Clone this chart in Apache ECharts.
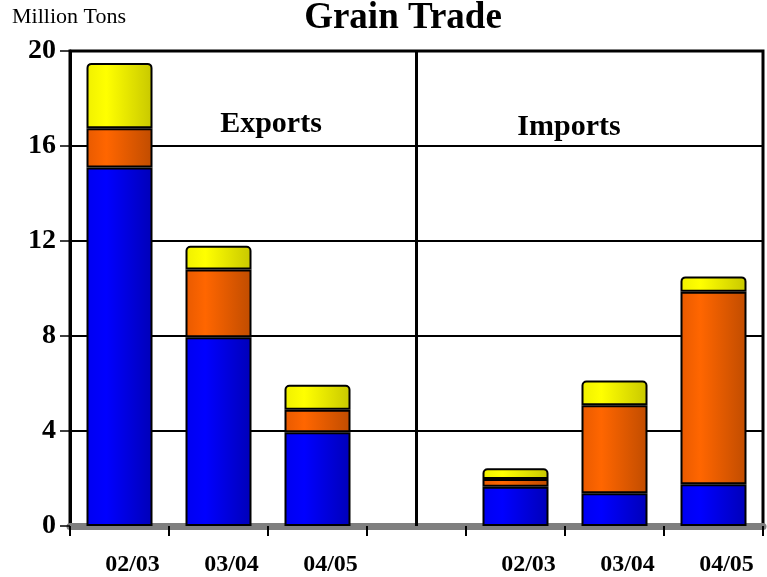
<!DOCTYPE html>
<html>
<head>
<meta charset="utf-8">
<script src="https://cdn.jsdelivr.net/npm/echarts@6/dist/echarts.min.js"></script>
<style>html,body{margin:0;padding:0;background:#fff;}#c{width:767px;height:577px;}</style>
</head>
<body>
<div id="c"></div>
<script>
var categories = ['02/03', '03/04', '04/05', '', '02/03', '03/04', '04/05'];
var blueValues = [15.1, 7.95, 3.95, '-', 1.65, 1.38, 1.76];
var orangeValues = [1.65, 2.85, 0.95, '-', 0.33, 3.7, 8.1];
var yellowValues = [2.75, 1.0, 1.05, '-', 0.45, 1.05, 0.65];
var yTicks = [0, 4, 8, 12, 16, 20];

var SERIF = '"Liberation Serif", "DejaVu Serif", serif';

function grad(c0, c1, c2) {
  return new echarts.graphic.LinearGradient(0, 0, 1, 0, [
    {offset: 0, color: c0}, {offset: 0.3, color: c1}, {offset: 1, color: c2}
  ]);
}

var chart = echarts.init(document.getElementById('c'));
chart.setOption({
  animation: false,
  backgroundColor: '#fff',
  grid: {left: 70, right: 4, top: 51, bottom: 49, show: true, borderColor: '#000', borderWidth: 3, backgroundColor: 'transparent'},
  graphic: [
    {type: 'text', left: 12, top: 6, style: {text: 'Million Tons', font: '22px ' + SERIF, fill: '#000'}},
    {type: 'text', style: {x: 403, y: 18, text: 'Grain Trade', font: 'bold 37px ' + SERIF, fill: '#000', textAlign: 'center', textVerticalAlign: 'middle'}},
    {type: 'text', z: 10, style: {x: 271, y: 124, text: 'Exports', font: 'bold 30px ' + SERIF, fill: '#000', textAlign: 'center', textVerticalAlign: 'middle'}},
    {type: 'text', z: 10, style: {x: 569, y: 127, text: 'Imports', font: 'bold 30px ' + SERIF, fill: '#000', textAlign: 'center', textVerticalAlign: 'middle'}}
  ],
  xAxis: {
    type: 'category',
    data: categories,
    axisLine: {show: true, lineStyle: {color: '#7f7f7f', width: 7}},
    axisTick: {show: true, length: 10, lineStyle: {color: '#000', width: 2}},
    axisLabel: {color: '#000', fontFamily: SERIF, fontWeight: 'bold', fontSize: 24, margin: 27, padding: [0, 0, 0, 26], interval: 0}
  },
  yAxis: {
    type: 'value',
    min: yTicks[0], max: yTicks[yTicks.length - 1], interval: 4,
    axisLine: {show: true, lineStyle: {color: '#000', width: 3}},
    axisTick: {show: true, length: 10, lineStyle: {color: '#000', width: 1.5}},
    axisLabel: {color: '#000', fontFamily: SERIF, fontWeight: 'bold', fontSize: 28, margin: 14, padding: [6, 0, 0, 0]},
    splitLine: {show: true, lineStyle: {color: '#000', width: 2}}
  },
  series: [
    {
      name: 'blue', type: 'bar', stack: 'a', barWidth: 66, data: blueValues,
      itemStyle: {color: grad('#0000f0', '#0000ff', '#0000b8'), borderColor: '#000', borderWidth: 2},
      markLine: {
        silent: true, symbol: 'none', label: {show: false},
        lineStyle: {color: '#000', width: 3, type: 'solid'},
        data: [{xAxis: 3}]
      }
    },
    {
      name: 'orange', type: 'bar', stack: 'a', barWidth: 66, data: orangeValues,
      itemStyle: {color: grad('#e85a00', '#ff6600', '#c04c00'), borderColor: '#000', borderWidth: 2}
    },
    {
      name: 'yellow', type: 'bar', stack: 'a', barWidth: 66, data: yellowValues,
      itemStyle: {color: grad('#f0f000', '#ffff00', '#c8c800'), borderColor: '#000', borderWidth: 2, borderRadius: [4, 4, 0, 0]}
    }
  ]
});
</script>
</body>
</html>
